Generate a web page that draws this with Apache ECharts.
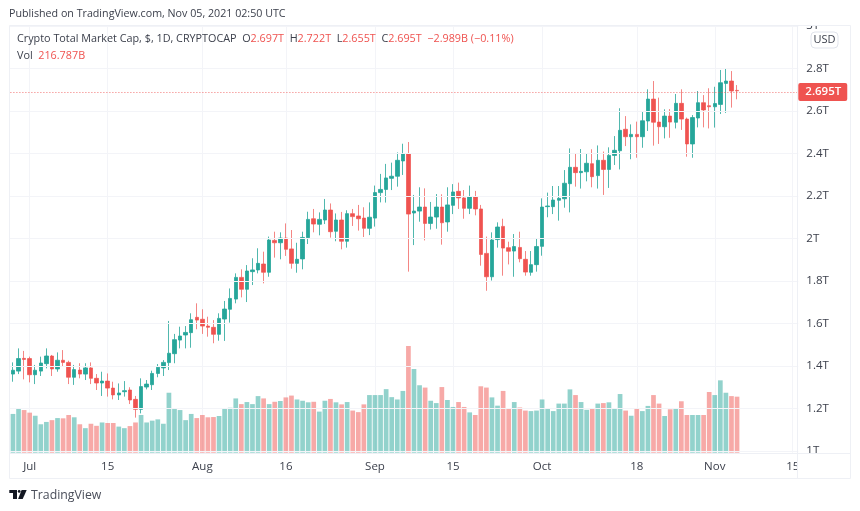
<!DOCTYPE html>
<html lang="en">
<head>
<meta charset="UTF-8">
<title>Crypto Total Market Cap</title>
<script src="https://cdn.jsdelivr.net/npm/echarts@6/dist/echarts.min.js"></script>
<style>
    html, body { margin: 0; padding: 0; background: #fff; }
    #chart { width: 860px; height: 511px; }
</style>
</head>
<body>
<div id="chart"></div>
<script>
// daily candles in trillions, first one is 27 Jun 2021
const startDay = Date.UTC(2021, 5, 27);
const totalDays = 143;

const opens = [
    1.279,1.362,1.376,1.436,1.435,1.359,1.376,1.411,1.447,1.386,
    1.427,1.417,1.347,1.381,1.362,1.391,1.342,1.320,1.329,1.296,
    1.264,1.279,1.287,1.243,1.196,1.301,1.312,1.365,1.391,1.416,
    1.458,1.522,1.546,1.557,1.629,1.620,1.588,1.582,1.549,1.621,
    1.667,1.715,1.817,1.761,1.844,1.852,1.880,1.841,1.991,1.980,
    2.002,1.951,1.883,1.904,2.004,2.093,2.067,2.087,2.134,2.034,
    2.087,1.987,2.117,2.106,2.096,2.048,2.096,2.216,2.231,2.283,
    2.293,2.365,2.398,2.120,2.129,2.148,2.071,2.101,2.148,2.078,
    2.156,2.222,2.191,2.142,2.195,2.139,1.930,1.820,1.995,2.057,
    1.957,1.941,1.958,1.902,1.841,1.877,1.963,2.150,2.150,2.180,
    2.187,2.258,2.335,2.310,2.314,2.352,2.296,2.368,2.325,2.391,
    2.413,2.514,2.479,2.490,2.479,2.553,2.656,2.548,2.526,2.576,
    2.547,2.636,2.562,2.445,2.567,2.639,2.625,2.620,2.631,2.730,
    2.741,2.697
];
const closes = [
    1.362,1.380,1.435,1.431,1.359,1.380,1.414,1.447,1.386,1.427,
    1.417,1.347,1.383,1.362,1.391,1.342,1.320,1.329,1.296,1.264,
    1.273,1.284,1.240,1.196,1.303,1.315,1.365,1.394,1.417,1.460,
    1.524,1.541,1.558,1.618,1.616,1.588,1.582,1.549,1.624,1.668,
    1.718,1.817,1.761,1.847,1.852,1.883,1.841,1.993,1.980,2.002,
    1.949,1.883,1.902,2.005,2.090,2.068,2.090,2.134,2.032,2.087,
    1.987,2.117,2.103,2.093,2.048,2.100,2.216,2.231,2.285,2.293,
    2.368,2.398,2.115,2.129,2.148,2.071,2.101,2.148,2.074,2.158,
    2.219,2.191,2.142,2.195,2.139,1.925,1.820,1.993,2.054,1.955,
    1.940,1.962,1.905,1.842,1.877,1.962,2.148,2.153,2.181,2.189,
    2.260,2.335,2.310,2.316,2.354,2.291,2.368,2.325,2.391,2.415,
    2.509,2.479,2.490,2.479,2.554,2.656,2.547,2.526,2.576,2.548,
    2.636,2.562,2.445,2.569,2.639,2.605,2.620,2.635,2.733,2.741,
    2.694,2.695
];
const lows = [
    1.279,1.326,1.362,1.337,1.323,1.315,1.353,1.389,1.353,1.373,
    1.400,1.315,1.311,1.342,1.334,1.315,1.287,1.259,1.256,1.243,
    1.240,1.256,1.221,1.157,1.177,1.290,1.287,1.347,1.353,1.381,
    1.413,1.483,1.483,1.486,1.573,1.551,1.538,1.507,1.519,1.518,
    1.604,1.695,1.723,1.701,1.781,1.836,1.789,1.820,1.910,1.902,
    1.918,1.858,1.839,1.855,1.974,2.029,2.015,2.068,2.004,1.987,
    1.949,1.957,2.059,2.037,2.007,2.016,2.056,2.170,2.169,2.228,
    2.244,2.299,1.844,1.969,2.079,1.991,2.042,2.046,1.971,2.032,
    2.115,2.139,2.093,2.115,2.109,1.872,1.754,1.802,1.957,1.825,
    1.878,1.820,1.888,1.825,1.825,1.844,1.919,2.100,2.115,2.084,
    2.145,2.123,2.244,2.235,2.269,2.241,2.235,2.205,2.238,2.346,
    2.325,2.435,2.373,2.380,2.427,2.506,2.437,2.445,2.471,2.474,
    2.518,2.511,2.385,2.380,2.523,2.523,2.518,2.522,2.586,2.591,
    2.616,2.655
];
const highs = [
    1.362,1.417,1.483,1.471,1.444,1.405,1.444,1.483,1.452,1.464,
    1.475,1.425,1.405,1.413,1.413,1.417,1.362,1.373,1.365,1.326,
    1.318,1.329,1.300,1.259,1.342,1.334,1.378,1.409,1.428,1.612,
    1.551,1.585,1.588,1.648,1.695,1.667,1.632,1.616,1.648,1.706,
    1.765,1.836,1.855,1.875,1.907,1.954,1.938,2.009,2.032,2.029,
    2.071,2.040,1.980,2.032,2.126,2.139,2.123,2.186,2.165,2.118,
    2.125,2.133,2.139,2.158,2.147,2.170,2.249,2.304,2.351,2.357,
    2.405,2.446,2.454,2.205,2.241,2.236,2.172,2.209,2.208,2.241,
    2.256,2.263,2.228,2.249,2.224,2.158,2.009,2.029,2.076,2.093,
    1.985,2.021,2.032,1.941,1.941,1.998,2.189,2.216,2.247,2.247,
    2.322,2.424,2.401,2.421,2.401,2.420,2.438,2.409,2.429,2.482,
    2.613,2.576,2.537,2.550,2.600,2.702,2.741,2.663,2.608,2.609,
    2.680,2.702,2.569,2.581,2.694,2.675,2.707,2.714,2.793,2.802,
    2.788,2.722
];
// volume in billions
const volumes = [
    155,150,169,165,155,143,110,119,126,134,
    133,146,137,110,95,112,104,117,115,115,
    101,95,103,117,146,117,124,129,112,232,
    170,165,126,150,134,146,137,138,142,172,
    174,210,188,196,188,219,210,188,197,200,
    214,221,206,201,195,197,159,201,208,195,
    187,196,163,157,187,223,223,223,246,215,
    206,239,413,324,261,252,201,192,254,204,
    177,196,177,156,146,257,252,214,182,239,
    173,196,175,163,161,163,206,173,161,190,
    190,245,223,196,166,173,190,192,195,173,
    227,163,143,173,161,181,223,190,142,168,
    169,199,146,146,146,146,235,223,280,232,
    219,216.787
];

const lastPrice = 2.695;
const priceTicks = { min: 1, max: 3, step: 0.2 };
const tickDays = ['2021-07-01','2021-07-15','2021-08-01','2021-08-16','2021-09-01','2021-09-15','2021-10-01','2021-10-18','2021-11-01','2021-11-15'];
const tickLabels = ['Jul','15','Aug','16','Sep','15','Oct','18','Nov','15'];

const categories = [];
for (let i = 0; i < totalDays; i++) {
    categories.push(new Date(startDay + i * 86400000).toISOString().slice(0, 10));
}

const UP = '#26a69a';
const DOWN = '#ef5350';
const FONT = '"Open Sans", "Noto Sans", sans-serif';
const TEXT = '#3c404c';
const FRAME = '#eef0f5';
const GRIDLINE = '#f3f4f8';

const isTick = (index, value) => tickDays.includes(value);
const priceLabel = v => (Math.round(v * 10) / 10) + 'T';

const candleData = opens.map((o, i) => [o, closes[i], lows[i], highs[i]]);
const volumeData = volumes.map((v, i) => ({
    value: v,
    itemStyle: { color: closes[i] >= opens[i] ? 'rgba(38,166,154,0.5)' : 'rgba(239,83,80,0.5)' }
}));

const chart = echarts.init(document.getElementById('chart'));

chart.setOption({
    animation: false,
    backgroundColor: '#fff',
    grid: [
        { left: 7.4, width: 790.9, top: 26, height: 425 },
        { left: 7.4, width: 790.9, top: 25, height: 427.7 }
    ],
    xAxis: [
        { type: 'category', gridIndex: 0, data: categories, boundaryGap: false, show: false },
        {
            type: 'category',
            gridIndex: 1,
            data: categories,
            boundaryGap: false,
            z: 2,
            axisLine: { show: false },
            axisTick: { show: false },
            axisLabel: {
                interval: isTick,
                formatter: value => tickLabels[tickDays.indexOf(value)],
                color: TEXT,
                fontFamily: FONT,
                fontSize: 11.5,
                margin: 8,
                showMinLabel: true,
                showMaxLabel: true,
                hideOverlap: false
            },
            splitLine: { show: true, interval: isTick, lineStyle: { color: GRIDLINE, width: 1 } }
        }
    ],
    yAxis: [
        {
            type: 'value',
            gridIndex: 0,
            position: 'right',
            min: priceTicks.min,
            max: priceTicks.max,
            interval: priceTicks.step,
            z: 4,
            axisLine: { show: false },
            axisTick: { show: false },
            axisLabel: {
                formatter: priceLabel,
                color: TEXT,
                fontFamily: FONT,
                fontSize: 11.5,
                margin: 8,
                padding: [4, 0, 0, 0],
                showMinLabel: true,
                showMaxLabel: true
            },
            splitLine: { show: true, lineStyle: { color: GRIDLINE, width: 1 } }
        },
        { type: 'value', gridIndex: 1, min: 0, max: 1655, show: false, splitLine: { show: false } }
    ],
    series: [
        {
            name: 'Vol',
            type: 'bar',
            xAxisIndex: 1,
            yAxisIndex: 1,
            barWidth: 4.7,
            data: volumeData,
            z: 2
        },
        {
            name: 'Crypto Total Market Cap',
            type: 'candlestick',
            xAxisIndex: 0,
            yAxisIndex: 0,
            barWidth: 4,
            data: candleData,
            z: 3,
            itemStyle: {
                color: UP,
                color0: DOWN,
                borderColor: 'rgba(38,166,154,0.8)',
                borderColor0: 'rgba(239,83,80,0.7)',
                borderWidth: 1
            },
            markLine: {
                silent: true,
                symbol: 'none',
                animation: false,
                data: [{ yAxis: lastPrice }],
                lineStyle: { color: 'rgba(239,83,80,0.8)', type: [1, 2], width: 1 },
                label: {
                    position: 'end',
                    distance: 0,
                    formatter: lastPrice.toFixed(3) + 'T',
                    color: '#fff',
                    backgroundColor: DOWN,
                    fontFamily: FONT,
                    fontSize: 11.5,
                    fontWeight: 600,
                    padding: [3, 6, 3, 7],
                    borderRadius: 2
                }
            }
        }
    ],
    graphic: { elements: [
        // covers that clip the first candle and the end tick labels
        { type: 'rect', z: 50, shape: { x: 0, y: 25, width: 9.5, height: 454 }, style: { fill: '#fff' } },
        { type: 'rect', z: 50, shape: { x: 798, y: 0, width: 62, height: 25 }, style: { fill: '#fff' } },
        { type: 'rect', z: 50, shape: { x: 798, y: 453.5, width: 52, height: 25 }, style: { fill: '#fff' } },
        // frame
        { type: 'rect', z: 51, shape: { x: 9.5, y: 25.5, width: 841, height: 453 }, style: { fill: 'none', stroke: FRAME, lineWidth: 1 } },
        { type: 'line', z: 51, shape: { x1: 797.5, y1: 25, x2: 797.5, y2: 478 }, style: { stroke: FRAME, lineWidth: 1 } },
        { type: 'line', z: 51, shape: { x1: 9.5, y1: 453.5, x2: 850, y2: 453.5 }, style: { stroke: FRAME, lineWidth: 1 } },
        // header
        {
            type: 'text', z: 52, x: 9, y: 14,
            style: { text: 'Published on TradingView.com, Nov 05, 2021 02:50 UTC', fill: TEXT, font: '10.7px ' + FONT, textVerticalAlign: 'middle' }
        },
        {
            type: 'text', z: 52, x: 17, y: 39,
            style: {
                text: 'Crypto Total Market Cap, $, 1D, CRYPTOCAP  O{r|2.697T}  H{r|2.722T}  L{r|2.655T}  C{r|2.695T}  {r|\u22122.989B (\u22120.11%)}',
                fill: TEXT,
                font: '10.8px ' + FONT,
                textVerticalAlign: 'middle',
                rich: { r: { fill: DOWN, font: '10.8px ' + FONT } }
            }
        },
        {
            type: 'text', z: 52, x: 17, y: 56,
            style: {
                text: 'Vol  {r|216.787B}',
                fill: TEXT,
                font: '10.8px ' + FONT,
                textVerticalAlign: 'middle',
                rich: { r: { fill: DOWN, font: '10.8px ' + FONT } }
            }
        },
        // USD badge
        { type: 'rect', z: 52, shape: { x: 811, y: 32, width: 27, height: 16, r: 4 }, style: { fill: '#fff', stroke: '#e0e3eb', lineWidth: 1 } },
        {
            type: 'text', z: 53, x: 824.5, y: 40,
            style: { text: 'USD', fill: TEXT, font: '11px ' + FONT, textAlign: 'center', textVerticalAlign: 'middle' }
        },
        // TradingView logo
        { type: 'polygon', z: 52, shape: { points: [[9.3,490],[17,490],[17,499],[13,499],[13,493],[9.3,493]] }, style: { fill: '#131722' } },
        { type: 'circle', z: 52, shape: { cx: 19.2, cy: 491.4, r: 1.4 }, style: { fill: '#131722' } },
        { type: 'polygon', z: 52, shape: { points: [[21.6,490],[26.7,490],[22.7,499],[18.1,499]] }, style: { fill: '#131722' } },
        {
            type: 'text', z: 52, x: 31, y: 495,
            style: { text: 'TradingView', fill: '#4a4e5a', font: '12.3px ' + FONT, textVerticalAlign: 'middle' }
        }
    ] }
});
</script>
</body>
</html>
